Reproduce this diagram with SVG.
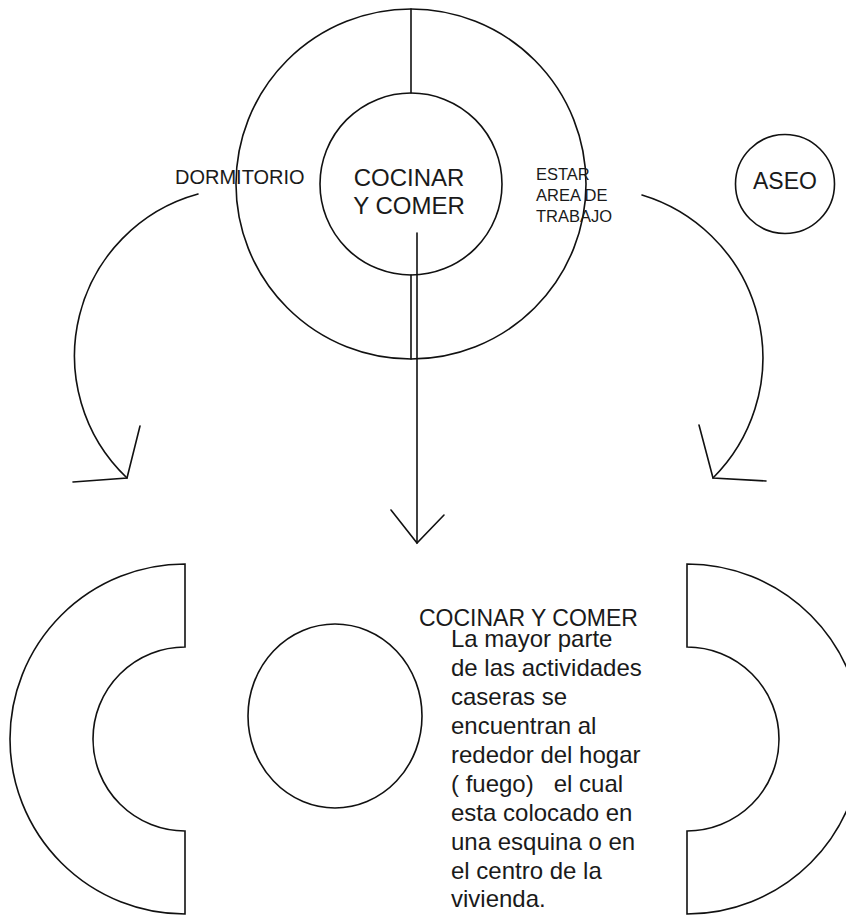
<svg xmlns="http://www.w3.org/2000/svg" width="846" height="915" viewBox="0 0 846 915">
<defs>
<style>
.ln{fill:none;stroke:#111;stroke-width:1.6;stroke-linecap:round;stroke-linejoin:miter}
.t{font-family:"Liberation Sans",Arial,sans-serif;fill:#1a1a1a}
.pre{white-space:pre}
</style>
</defs>
<rect width="846" height="915" fill="#fff"/>
<g id="outer-ring">
<circle class="ln" cx="411" cy="184" r="175"/>
<line class="ln" x1="411" y1="9" x2="411" y2="93"/>
<line class="ln" x1="411" y1="275" x2="411" y2="359"/>
<text class="t" x="175" y="184" font-size="20">DORMITORIO</text>
<text class="t" x="536" y="180" font-size="16.5">ESTAR</text>
<text class="t" x="536" y="201" font-size="16.5">AREA DE</text>
<text class="t" x="536" y="222" font-size="16.5">TRABAJO</text>
</g>
<g id="cocinar-comer">
<circle class="ln" cx="411" cy="184" r="91"/>
<text class="t" x="409" y="186" font-size="24" text-anchor="middle">COCINAR</text>
<text class="t" x="409" y="214" font-size="24" text-anchor="middle">Y COMER</text>
</g>
<g id="aseo">
<circle class="ln" cx="785" cy="184" r="49.5"/>
<text class="t" x="785" y="189" font-size="23" text-anchor="middle">ASEO</text>
</g>
<g id="connectors">
<path class="ln" d="M198,194 A168,168 0 0 0 127,478"/>
<polyline class="ln" points="140,426 127,478 73,482"/>
<path class="ln" d="M642,195 A170,170 0 0 1 713,478"/>
<polyline class="ln" points="699,425 713,478 766,481"/>
<line class="ln" x1="417" y1="233" x2="417" y2="543"/>
<polyline class="ln" points="391,510 417,543 444,515"/>
</g>
<g id="left-half-ring">
<path class="ln" d="M185,564 A175,175 0 0 0 185,914 L185,831 A92,92 0 0 1 185,647 Z"/>
</g>
<g id="hearth">
<ellipse class="ln" cx="335" cy="716" rx="87" ry="92"/>
</g>
<g id="right-half-ring">
<path class="ln" d="M687,564 A175,175 0 0 1 687,914 L687,831 A92,92 0 0 0 687,647 Z"/>
</g>
<g id="description">
<text class="t" x="419" y="626" font-size="23">COCINAR Y COMER</text>
<text class="t pre" font-size="24" xml:space="preserve"><tspan x="451" y="647">La mayor parte</tspan><tspan x="451" y="676">de las actividades</tspan><tspan x="451" y="705">caseras se</tspan><tspan x="451" y="734">encuentran al</tspan><tspan x="451" y="763">rededor del hogar</tspan><tspan x="451" y="792">( fuego)   el cual</tspan><tspan x="451" y="821">esta colocado en</tspan><tspan x="451" y="850">una esquina o en</tspan><tspan x="451" y="879">el centro de la</tspan><tspan x="451" y="907">vivienda.</tspan></text>
</g>
</svg>
